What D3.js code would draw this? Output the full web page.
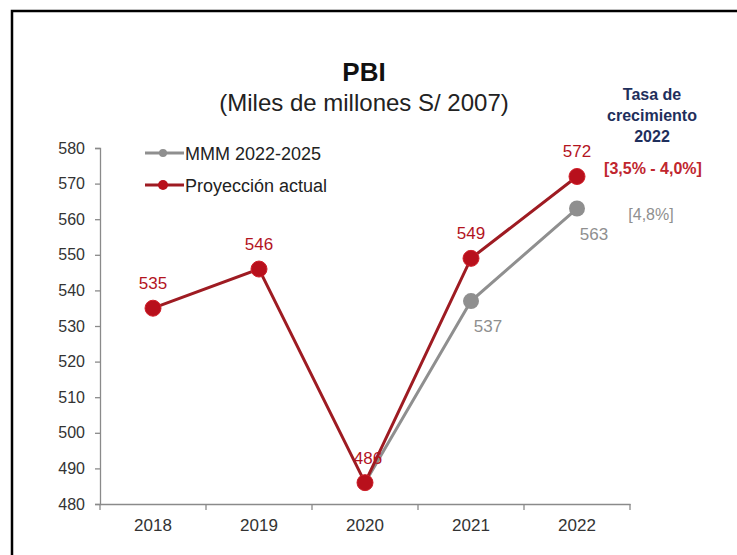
<!DOCTYPE html>
<html>
<head>
<meta charset="utf-8">
<script src="https://cdn.jsdelivr.net/npm/d3@7"></script>
<style>
  html, body { margin: 0; padding: 0; background: #fff; }
  svg { display: block; font-family: "Liberation Sans", Arial, sans-serif; }
</style>
</head>
<body>
<svg id="chart" width="737" height="555"></svg>
<script>
// PBI real (miles de millones de soles de 2007)
const years = ["2018", "2019", "2020", "2021", "2022"];
const proyeccionActual = [535, 546, 486, 549, 572];
const mmmYears = ["2020", "2021", "2022"];
const mmm20222025 = [486, 537, 563];
const yTicks = [480, 490, 500, 510, 520, 530, 540, 550, 560, 570, 580];
const seriesNames = ["MMM 2022-2025", "Proyección actual"];
const tasaTitulo = ["Tasa de", "crecimiento", "2022"];
const tasaActual = "[3,5% - 4,0%]";
const tasaMMM = "[4,8%]";

const RED = "#b8101c", RED_LINE = "#9e1b22", RED_TEXT = "#b3141e",
      GRAY = "#8f8f8f", NAVY = "#1f2f5c";

const svg = d3.select("#chart");

// outer frame
svg.append("rect")
  .attr("x", 12).attr("y", 11).attr("width", 800).attr("height", 600)
  .attr("fill", "none").attr("stroke", "#000").attr("stroke-width", 2.5);

const x = d3.scaleBand().domain(years).range([100, 630]);
const y = d3.scaleLinear().domain([480, 580]).range([504, 148]);
const cx = d => x(d) + x.bandwidth() / 2;

// axes
const yAxis = svg.append("g").attr("transform", "translate(100,0)")
  .call(d3.axisLeft(y).tickValues(yTicks).tickSize(5).tickPadding(10));
const xAxis = svg.append("g").attr("transform", "translate(0,504)")
  .call(d3.axisBottom(x).tickSize(0).tickPadding(15));
// x ticks at the band boundaries
xAxis.selectAll(".edge").data(years.concat(["end"])).enter().append("line")
  .attr("class", "edge")
  .attr("x1", (d, i) => 100 + i * x.bandwidth()).attr("x2", (d, i) => 100 + i * x.bandwidth())
  .attr("y1", 0).attr("y2", 6);
[yAxis, xAxis].forEach(g => {
  g.selectAll("path.domain").attr("stroke", "#8a8a8a").attr("stroke-width", 1.3);
  g.selectAll("line").attr("stroke", "#8a8a8a").attr("stroke-width", 1.3);
  g.selectAll("text").attr("fill", "#333").attr("font-family", "Liberation Sans, Arial, sans-serif");
});
yAxis.selectAll("text").attr("font-size", 16);
xAxis.selectAll("text").attr("font-size", 17);

// lines
const line = d3.line().x(d => cx(d[0])).y(d => y(d[1]));
const mmmData = mmmYears.map((d, i) => [d, mmm20222025[i]]);
const actData = years.map((d, i) => [d, proyeccionActual[i]]);

svg.append("path").datum(mmmData).attr("d", line)
  .attr("fill", "none").attr("stroke", GRAY).attr("stroke-width", 3);
svg.selectAll("circle.mmm").data(mmmData).enter().append("circle")
  .attr("class", "mmm").attr("cx", d => cx(d[0])).attr("cy", d => y(d[1]))
  .attr("r", 8).attr("fill", GRAY);

svg.append("path").datum(actData).attr("d", line)
  .attr("fill", "none").attr("stroke", RED_LINE).attr("stroke-width", 3);
svg.selectAll("circle.act").data(actData).enter().append("circle")
  .attr("class", "act").attr("cx", d => cx(d[0])).attr("cy", d => y(d[1]))
  .attr("r", 8).attr("fill", RED).attr("stroke", "#d0202a").attr("stroke-width", 1);

// data labels
svg.selectAll("text.lab-act").data(actData).enter().append("text")
  .attr("class", "lab-act")
  .attr("x", (d, i) => cx(d[0]) + (i === 2 ? 3 : 0))
  .attr("y", d => y(d[1]) - 19)
  .attr("text-anchor", "middle").attr("font-size", 17)
  .attr("fill", RED_TEXT).text(d => d[1]);
svg.selectAll("text.lab-mmm").data(mmmData.slice(1)).enter().append("text")
  .attr("class", "lab-mmm")
  .attr("x", d => cx(d[0]) + 17)
  .attr("y", d => y(d[1]) + 31)
  .attr("text-anchor", "middle").attr("font-size", 17)
  .attr("fill", GRAY).text(d => d[1]);

// titles
svg.append("text").attr("x", 364).attr("y", 81).attr("text-anchor", "middle")
  .attr("font-size", 26).attr("font-weight", "bold").attr("fill", "#111").text("PBI");
svg.append("text").attr("x", 364).attr("y", 111).attr("text-anchor", "middle")
  .attr("font-size", 24).attr("fill", "#222").text("(Miles de millones S/ 2007)");

// growth-rate annotation
svg.append("text").attr("text-anchor", "middle").attr("font-size", 16)
  .attr("font-weight", "bold").attr("fill", NAVY)
  .selectAll("tspan").data(tasaTitulo).enter().append("tspan")
  .attr("x", 652).attr("y", (d, i) => 100 + i * 21).text(d => d);
svg.append("text").attr("x", 653).attr("y", 174).attr("text-anchor", "middle")
  .attr("font-size", 16).attr("font-weight", "bold").attr("fill", "#c0262e").text(tasaActual);
svg.append("text").attr("x", 651).attr("y", 220).attr("text-anchor", "middle")
  .attr("font-size", 16).attr("fill", GRAY).text(tasaMMM);

// legend
const legend = svg.append("g").attr("transform", "translate(145,153)");
const legColors = [GRAY, RED];
seriesNames.forEach((name, i) => {
  const g = legend.append("g").attr("transform", `translate(0,${i * 32})`);
  g.append("line").attr("x1", 0).attr("x2", 39).attr("y1", 0).attr("y2", 0)
    .attr("stroke", i === 0 ? GRAY : RED_LINE).attr("stroke-width", 3);
  g.append("circle").attr("cx", 18).attr("cy", 0).attr("r", i === 0 ? 4 : 5)
    .attr("fill", legColors[i]);
  g.append("text").attr("x", 40).attr("y", 6.5).attr("font-size", 18)
    .attr("fill", "#222").text(name);
});
</script>
</body>
</html>
